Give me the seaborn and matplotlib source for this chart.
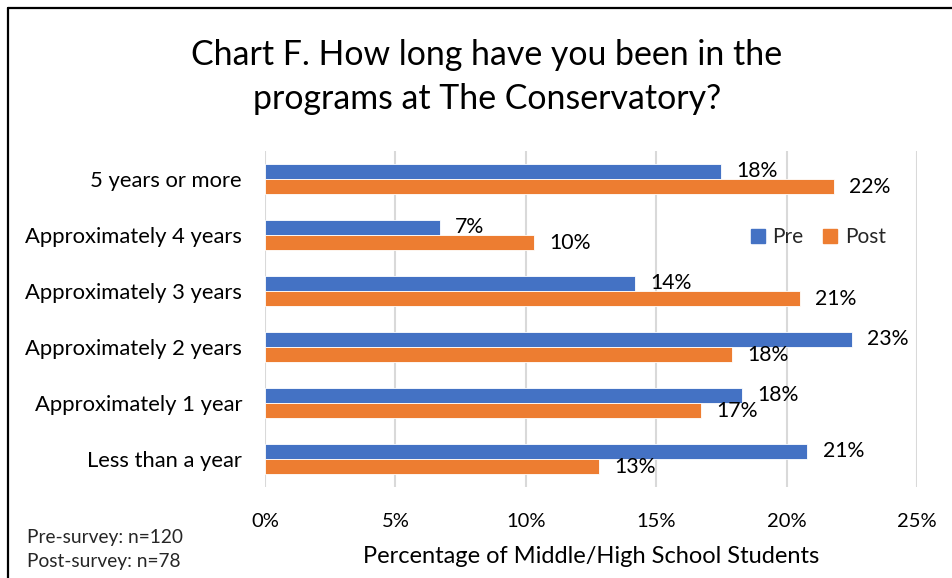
import math
import matplotlib
matplotlib.use("Agg")
import matplotlib.pyplot as plt
from matplotlib.lines import Line2D
import pandas as pd
import seaborn as sns

categories = [
    "5 years or more",
    "Approximately 4 years",
    "Approximately 3 years",
    "Approximately 2 years",
    "Approximately 1 year",
    "Less than a year",
]
pre_values = [17.5, 6.7, 14.2, 22.5, 18.3, 20.8]
post_values = [21.8, 10.3, 20.5, 17.9, 16.7, 12.8]
series = ["Pre", "Post"]
x_ticks = [0, 5, 10, 15, 20, 25]
x_tick_labels = ["0%", "5%", "10%", "15%", "20%", "25%"]

title = "Chart F. How long have you been in the\nprograms at The Conservatory?"
x_label = "Percentage of Middle/High School Students"
notes = ["Pre-survey: n=120", "Post-survey: n=78"]

colors = {"Pre": "#4472C4", "Post": "#ED7D31"}

df = pd.DataFrame({
    "category": categories * 2,
    "value": pre_values + post_values,
    "survey": ["Pre"] * len(categories) + ["Post"] * len(categories),
})

sns.set_theme(style="white")
plt.rcParams["font.family"] = ["Lato", "DejaVu Sans"]

fig = plt.figure(figsize=(9.53, 5.78), dpi=100)
ax = fig.add_axes([265 / 953, 1 - 487 / 578, 652 / 953, 336 / 578])

sns.barplot(
    data=df, y="category", x="value", hue="survey", hue_order=series,
    order=categories, palette=colors, saturation=1, orient="h", width=0.54,
    gap=0, edgecolor="white", linewidth=0.6, legend=False, ax=ax,
)

ax.set_xlim(0, 25)
ax.set_xticks(x_ticks)
ax.set_xticklabels(x_tick_labels)
ax.xaxis.grid(True, color="#D9D9D9", linewidth=1.5)
ax.set_axisbelow(True)
for s in ax.spines.values():
    s.set_visible(False)
ax.tick_params(axis="x", length=0, pad=19, labelsize=14.5, labelcolor="#000000")
ax.tick_params(axis="y", length=0, pad=16.5, labelsize=15.8, labelcolor="#000000")
ax.set_ylabel("")
ax.set_xlabel(x_label, fontsize=17, color="#000000", labelpad=11)

for cont, vals in zip(ax.containers, [pre_values, post_values]):
    labels = [f"{math.floor(v + 0.5)}%" for v in vals]
    ax.bar_label(cont, labels=labels, padding=11, fontsize=15.3, color="#000000")

handles = [Line2D([], [], marker="s", linestyle="", markersize=10,
                  markerfacecolor=colors[s], markeredgecolor=colors[s]) for s in series]
ax.legend(handles, series, loc="center", bbox_to_anchor=(0.846, 0.744), ncol=2,
          frameon=False, fontsize=15, handletextpad=0.2, columnspacing=0.8,
          handlelength=1.0)

fig.text(487 / 953, 1 - 77 / 578, title, ha="center", va="center",
         fontsize=24.4, linespacing=1.45, color="#000000")

fig.text(27 / 953, 1 - 537 / 578, notes[0], ha="left", va="center", fontsize=13.8)
fig.text(27 / 953, 1 - 561 / 578, notes[1], ha="left", va="center", fontsize=13.8)

# chart frame: top and left edges
fig.add_artist(Line2D([8 / 953, 1.0], [1 - 8 / 578, 1 - 8 / 578], color="black",
                      linewidth=1.6, transform=fig.transFigure))
fig.add_artist(Line2D([8 / 953, 8 / 953], [1 - 8 / 578, 0.0], color="black",
                      linewidth=1.6, transform=fig.transFigure))

fig.savefig("out.png", dpi=100)
